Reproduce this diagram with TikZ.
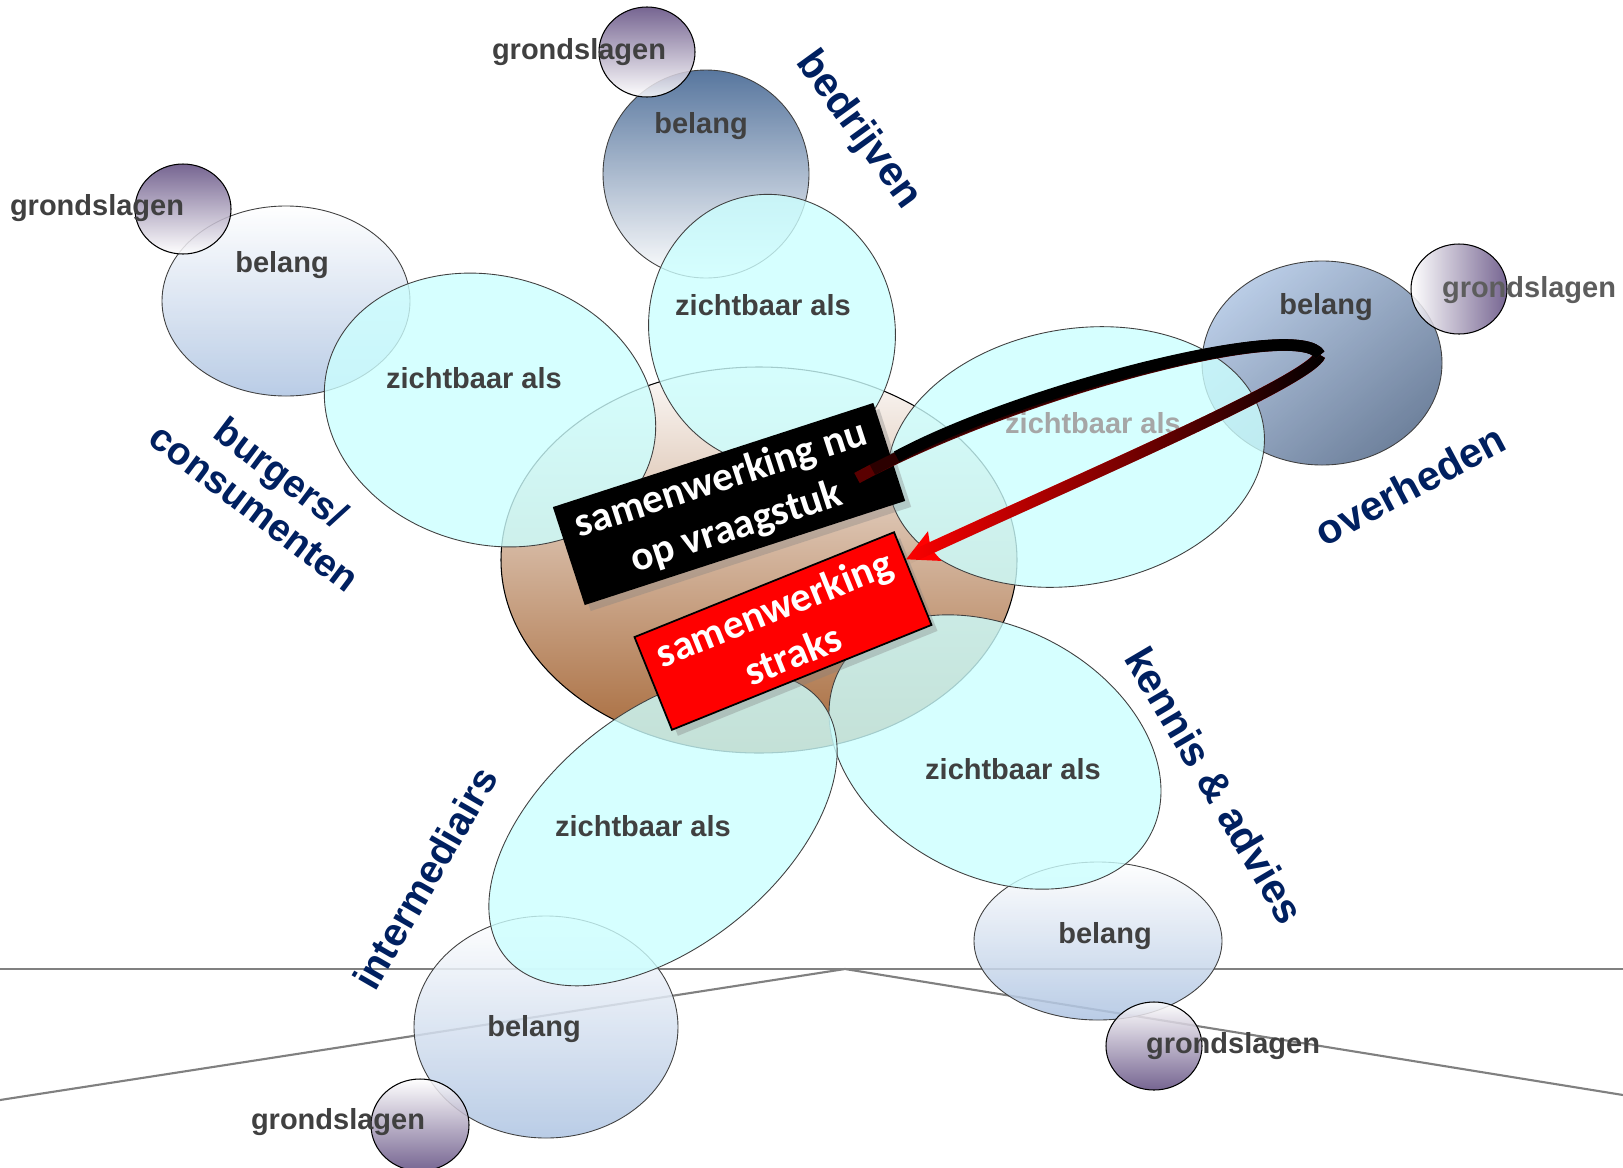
\documentclass[tikz,border=0pt]{standalone}
\usepackage{fontspec}
\setmainfont{Liberation Sans}
\newfontfamily\boxfont{Carlito}
\usetikzlibrary{arrows.meta,shadows,fadings,calc}

\definecolor{navy}{HTML}{002060}
\definecolor{labelgray}{HTML}{404040}
\definecolor{zichtcyan}{HTML}{CCFFFF}
\definecolor{paars}{HTML}{5F4B7F}
\definecolor{lichtblauw}{HTML}{AEC4E2}
\definecolor{donkerblauw}{HTML}{3B5F8E}
\definecolor{leisteen}{HTML}{566C8C}
\definecolor{bruin}{HTML}{A66838}
\definecolor{donkerrood}{HTML}{5A0000}

\tikzfading[name=naarrood, left color=transparent!100, middle color=transparent!85, right color=transparent!0]

\begin{document}
\begin{tikzpicture}[x=0.02cm, y=-0.02cm,
    blob/.style={draw=black!75, line width=0.5pt},
    zicht/.style={blob, fill=zichtcyan, fill opacity=0.8},
    belang/.style={blob, fill opacity=0.85},
    grond/.style={draw=black, line width=0.6pt, fill opacity=0.85},
    tekst/.style={font=\bfseries\fontsize{16.5}{18}\selectfont, text=labelgray, inner sep=0pt},
    groep/.style={font=\bfseries\fontsize{23.5}{26}\selectfont, text=navy, inner sep=0pt, align=center},
    kader/.style={font=\boxfont\bfseries\fontsize{23.5}{28.5}\selectfont, text=white, align=center,
      inner sep=0pt, drop shadow={opacity=0.35, shadow xshift=0.12cm, shadow yshift=-0.12cm}},
    pijl/.style={line width=0.23cm}]

    \useasboundingbox (0,0) rectangle (1623,1167);
    \fill[white] (0,0) rectangle (1623,1167);

    % horizon lines
    \draw[black!50, line width=1.2pt] (0,969) -- (1623,969);
    \draw[black!50, line width=1.2pt] (0,1100) -- (845,969) -- (1623,1095);

    % belang
    \draw[belang, top color=donkerblauw, bottom color=white] (706,174) ellipse [x radius=103, y radius=104];
    \draw[belang, top color=white, bottom color=lichtblauw] (286,301) ellipse [x radius=124, y radius=95];
    \draw[belang, top color=lichtblauw, middle color=lichtblauw!85!leisteen, bottom color=leisteen, shading angle=40] (1322,363) ellipse [x radius=120, y radius=102];
    \draw[belang, top color=white, bottom color=lichtblauw] (1098,941) ellipse [x radius=124, y radius=79];
    \draw[belang, top color=white, bottom color=lichtblauw] (546,1027) ellipse [x radius=132, y radius=111];

    % grondslagen
    \draw[grond, top color=paars, bottom color=white] (647,52) ellipse [x radius=48, y radius=45];
    \draw[grond, top color=paars, bottom color=white] (183,209) ellipse [x radius=48, y radius=45];
    \draw[grond, left color=white, right color=paars] (1459,289) ellipse [x radius=48, y radius=45];
    \draw[grond, top color=white, bottom color=paars] (1154,1046) ellipse [x radius=48, y radius=44];
    \draw[grond, top color=white, bottom color=paars] (420,1125) ellipse [x radius=49, y radius=46];

    % vraagstuk
    \draw[draw=black, line width=0.6pt, top color=bruin!3, middle color=bruin!45, bottom color=bruin] (759,560) ellipse [x radius=258, y radius=193];

    % zichtbaar als
    \draw[zicht, rotate around={-16:(490,410)}] (490,410) ellipse [x radius=168, y radius=134];
    \draw[zicht, rotate around={10:(772,330)}] (772,330) ellipse [x radius=123, y radius=136];
    \draw[zicht, rotate around={10:(1076,457)}] (1076,457) ellipse [x radius=190, y radius=128];
    \draw[zicht, rotate around={-28:(995,752)}] (995,752) ellipse [x radius=176, y radius=124];
    \draw[zicht, rotate around={39:(663,829)}] (663,829) ellipse [x radius=203, y radius=117];

    \node[tekst] (gs1) at (579,52) {grondslagen};
    \node[tekst] (gs2) at (97,208) {grondslagen};
    \node[tekst, text=labelgray!85] (gs3) at (1529,290) {grondslagen};
    \node[tekst] (gs4) at (1233,1046) {grondslagen};
    \node[tekst] (gs5) at (338,1122) {grondslagen};

    \node[tekst] (bl1) at (701,126) {belang};
    \node[tekst] (bl2) at (282,265) {belang};
    \node[tekst] (bl3) at (1326,307) {belang};
    \node[tekst] (bl4) at (1105,936) {belang};
    \node[tekst] (bl5) at (534,1029) {belang};

    \node[tekst] (zb1) at (474,378) {zichtbaar als};
    \node[tekst] (zb2) at (763,305) {zichtbaar als};
    \node[tekst, text=black!35] (zb3) at (1093,423) {zichtbaar als};
    \node[tekst] (zb4) at (1013,769) {zichtbaar als};
    \node[tekst] (zb5) at (643,826) {zichtbaar als};

    \node[groep, rotate=-54] (bedrijven) at (858,130) {bedrijven};
    \node[groep, rotate=28] (overheden) at (1410,485) {overheden};
    \node[groep, rotate=-37, font=\bfseries\fontsize{22}{25}\selectfont] (burgers) at (268,490) {burgers/\\consumenten};
    \node[groep, rotate=-59.5] (kennis) at (1215,785) {kennis \& advies};
    \node[groep, rotate=60, font=\bfseries\fontsize{22.5}{25}\selectfont] (intermediairs) at (425,878) {intermediairs};

    \node[kader, fill=black, minimum width=6.74cm, minimum height=2.06cm, rotate=18] (nu) at (729,504) {samenwerking nu\\op vraagstuk};
    \node[kader, fill=red, draw=black, line width=1pt, minimum width=5.6cm, minimum height=2cm, rotate=22] (straks) at (783,631) {samenwerking\\straks};

    % van nu naar straks
    \coordinate (staart) at (857,478);
    \coordinate (keer) at (1320,355);
    \coordinate (punt) at ($(straks.east)!0.4!(straks.north east)$);
    \draw[pijl, red, -{Stealth[length=0.62cm, width=0.62cm, inset=0.08cm]}] (keer) .. controls (1310,380) and (1100,470) .. (punt);
    \draw[pijl, black, path fading=naarrood] (keer) .. controls (1310,380) and (1100,470) .. (punt);
    \draw[pijl, donkerrood] (staart) .. controls (1020,390) and (1300,318) .. (keer);
    \draw[pijl, black, opacity=0.5, shorten <=0.35cm] (staart) .. controls (1020,390) and (1300,318) .. (keer);
    \draw[pijl, black, shorten <=0.9cm] (staart) .. controls (1020,390) and (1300,318) .. (keer);

\end{tikzpicture}
\end{document}
